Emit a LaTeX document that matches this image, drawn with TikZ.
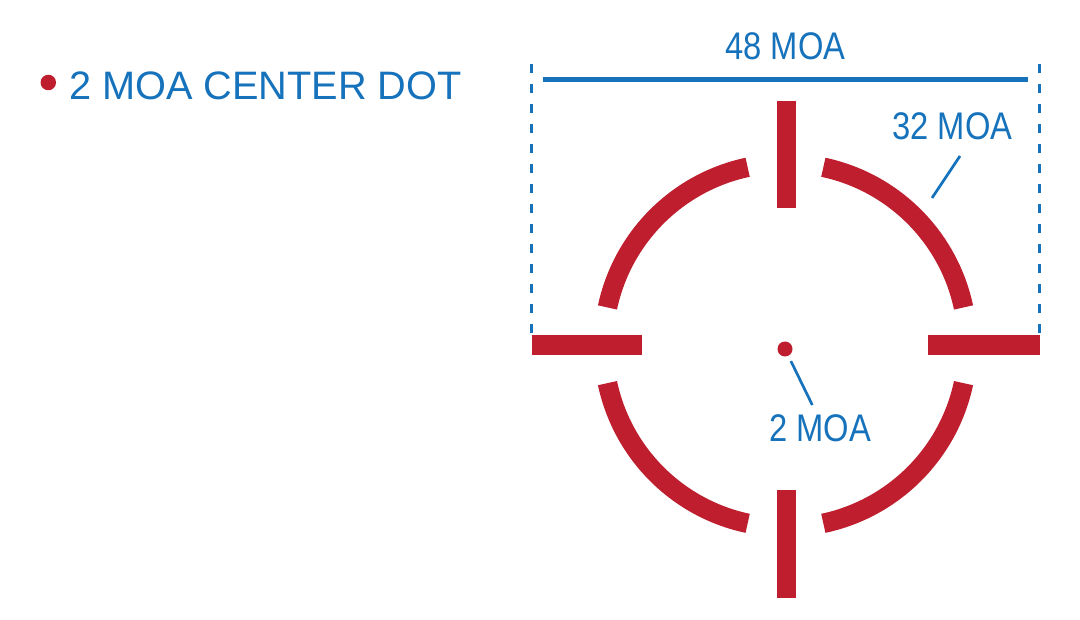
\documentclass[tikz,border=0pt]{standalone}
\usepackage{fontspec}
\setmainfont{Liberation Sans}
\newfontfamily\narrowfont[FakeStretch=0.85]{Liberation Sans}
\definecolor{reticlered}{RGB}{190,30,45}
\definecolor{moablue}{RGB}{22,114,187}

\begin{document}
\begin{tikzpicture}
[x=1pt,y=-1pt,%
  every node/.style={inner sep=0pt,outer sep=0pt},%
  reticle/.style={reticlered,line width=19.5pt,line cap=butt},%
  dim/.style={moablue,line width=2.7pt},%
  dimdash/.style={moablue,line width=3pt,dash pattern=on 9pt off 11pt},%
  moalabel/.style={moablue,anchor=base,font=\narrowfont\fontsize{38.5}{40}\selectfont}]
\useasboundingbox (0,0) rectangle (1080,620);

% legend
\node[circle,fill=reticlered,minimum size=15.5pt] (bullet) at (48.3,82.5) {};
\node[anchor=base west,moablue,font=\fontsize{39.7}{42}\selectfont] (legend) at (69,99.3) {2 MOA CENTER DOT};

% reticle
\coordinate (ctr) at (785.5,345.3);
\foreach \a in {12,102,192,282}
  \draw[reticle] (ctr) ++(\a:182) arc[start angle=\a,delta angle=66,radius=182];
\draw[reticle] (786.3,100.7) -- (786.3,208.3);
\draw[reticle] (786.3,490) -- (786.3,598);
\draw[reticle] (531.7,345) -- (642,345);
\draw[reticle] (928,345) -- (1039.5,345);
\node[circle,fill=reticlered,minimum size=15pt] (dot) at (785,349) {};

% 48 MOA span
\coordinate (spanL) at (543,80);
\coordinate (spanR) at (1028,80);
\draw[moablue,line width=5pt] (spanL) -- (spanR);
\node[moalabel] (lbl48) at (785.5,60) {48 MOA};
\coordinate (edgeLtop) at (531,64);
\coordinate (edgeLbot) at (531,333);
\coordinate (edgeRtop) at (1039,64);
\coordinate (edgeRbot) at (1039,333);
\draw[dimdash] (edgeLtop) -- (edgeLbot);
\draw[dimdash] (edgeRtop) -- (edgeRbot);

% 32 MOA ring
\node[moalabel] (lbl32) at (952.5,140) {32 MOA};
\coordinate (lead32) at (960,156);
\coordinate (tip32) at (932,198);
\draw[dim] (lead32) -- (tip32);

% 2 MOA dot
\node[moalabel] (lbl2) at (820,442) {2 MOA};
\coordinate (tip2) at (812.3,405);
\draw[dim,shorten <=6pt] (dot) -- (tip2);
\end{tikzpicture}
\end{document}
